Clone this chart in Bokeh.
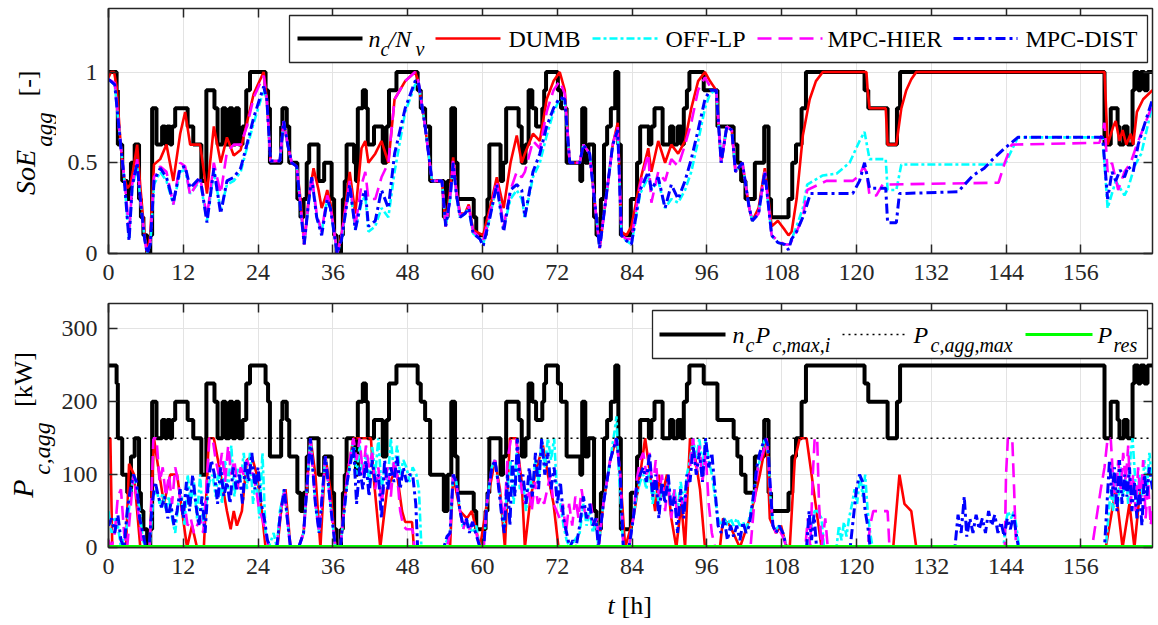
import math
from bokeh.plotting import figure
from bokeh.models import (Range1d, FixedTicker, LinearAxis, Label, Arrow, BoxAnnotation,
                          Span, CustomJSTickFormatter)
from bokeh.layouts import column, row
from bokeh.embed import file_html
from bokeh.resources import INLINE

# ---------------- data ----------------
N_V = 10            # number of vehicles
P_C_MAX_I = 25.0    # kW per charger
P_AGG_MAX = 150.0   # kW

x_ticks = [0, 12, 24, 36, 48, 60, 72, 84, 96, 108, 120, 132, 144, 156]
soe_ticks = [0, 0.5, 1]
p_ticks = [0, 100, 200, 300]

# connected vehicles n_c (step, value holds from t onward)
nc_pts = [(0,10),(1.3,9),(1.5,6),(2.2,4),(3.0,3),(3.6,5),(4.2,6),(4.9,3),(5.2,2),(5.6,1),(6.2,0),(6.7,1),
          (7.0,8),(7.7,6),(8.6,7),(9.1,6),(9.4,7),(9.9,6),(10.2,7),(10.7,8),(12.7,7),(13.6,6),(14.9,4),
          (15.7,9),(17.0,8),(17.5,6),(18.3,8),(18.8,6),(19.4,8),(19.9,6),(20.4,8),(20.9,6),(21.5,7),
          (22.1,9),(22.7,10),(25.2,9),(25.6,8),(25.9,5),(27.7,7),(27.9,8),(28.6,7),(29.0,5),(30.3,3),
          (30.8,2),(31.3,3),(31.8,5),(32.2,6),(33.7,4),(34.6,5),(35.8,3),(36.2,1),(36.6,0),(37.3,1),
          (37.6,3),(37.9,4),(38.2,6),(39.4,5),(39.7,4),(40.0,8),(40.8,9),(41.3,8),(41.6,6),(42.6,7),
          (44.0,5),(44.6,7),(45.0,9),(46.2,10),(49.6,9),(50.1,8),(50.8,7),(51.6,4),(53.8,2),(54.4,4),
          (55.0,8),(55.6,5),(56.0,3),(58.6,2),(59.0,1),(60.5,2),(60.8,3),(61.1,6),(62.9,4),(63.3,5),
          (63.8,8),(65.8,7),(66.3,5),(66.9,6),(67.4,9),(68.0,8),(68.6,7),(69.6,8),(69.9,9),(70.2,10),
          (72.1,9),(72.6,8),(73.5,5),(75.7,4),(76.0,8),(76.5,5),(77.0,6),(77.9,2),(78.3,1),(79.0,3),
          (79.5,6),(80.0,7),(80.6,8),(81.3,10),(81.8,6),(82.2,1),(83.8,3),(84.8,5),(85.3,7),(86.7,6),
          (87.1,7),(87.6,8),(88.9,6),(90.1,7),(90.6,6),(91.3,7),(91.9,6),(92.3,8),(92.8,9),(93.2,10),
          (95.5,9),(97.7,7),(100.3,6),(100.9,5),(101.5,4),(102.2,3),(103.7,5),(105.2,7),(105.9,3),
          (106.3,2),(109.1,3),(109.7,5),(110.3,6),(111.2,8),(111.9,10),(121.3,9),(121.9,8),(125.0,6),
          (126.5,8),(127.0,10),(159.8,6),(160.8,8),(161.9,7),(162.2,6),(162.9,7),(163.5,6),(164.3,9),
          (164.6,10),(165.2,9),(165.6,10),(166.2,9),(166.7,10),(167.5,10)]

soe_dumb = [(0,0.97),(0.4,1.0),(0.9,1.0),(1.3,0.92),(2.0,0.58),(2.5,0.42),(3.0,0.36),(3.5,0.38),(3.9,0.45),
            (4.6,0.6),(5.1,0.37),(5.8,0.1),(6.2,0.0),(6.7,0.1),(7.3,0.49),(8.3,0.52),(9.3,0.6),(10.4,0.4),
            (11.5,0.66),(12.3,0.78),(13.1,0.6),(14.7,0.6),(15.8,0.33),(16.9,0.7),(18.0,0.5),(19.0,0.64),
            (20.1,0.54),(21.2,0.57),(22.2,0.72),(23.3,0.88),(24.9,1.0),(25.4,0.85),(26.0,0.51),(27.5,0.51),
            (28.1,0.73),(28.8,0.59),(29.4,0.5),(30.2,0.48),(30.8,0.3),(31.4,0.05),(32.1,0.3),(32.9,0.47),
            (33.7,0.35),(34.2,0.25),(34.8,0.31),(35.1,0.35),(35.6,0.28),(36.7,0.0),(37.4,0.1),(38.7,0.45),
            (39.6,0.22),(40.6,0.58),(41.2,0.62),(41.7,0.5),(42.8,0.55),(43.8,0.62),(44.9,0.5),(45.9,0.85),
            (47.6,0.95),(49.2,1.0),(49.7,0.95),(50.8,0.7),(51.9,0.4),(53.5,0.4),(54.1,0.15),(54.8,0.35),
            (55.3,0.53),(55.8,0.35),(56.4,0.22),(57.2,0.22),(57.8,0.27),(58.5,0.13),(59.6,0.11),(60.1,0.1),
            (61.2,0.25),(62.3,0.42),(63.4,0.25),(64.5,0.5),(65.5,0.65),(66.3,0.5),(66.8,0.55),(68.1,0.66),
            (69.2,0.62),(70.3,0.85),(71.4,0.95),(72.4,1.0),(73.2,0.9),(74.0,0.5),(75.6,0.5),(76.2,0.6),
            (77.2,0.55),(77.8,0.35),(78.8,0.03),(79.8,0.3),(80.9,0.6),(81.7,0.72),(82.3,0.12),(83.1,0.1),
            (83.9,0.15),(85.3,0.4),(86.6,0.58),(87.1,0.45),(88.2,0.62),(89.3,0.5),(90.3,0.6),(91.4,0.55),
            (92.5,0.62),(93.5,0.8),(94.6,0.95),(95.7,1.0),(96.5,0.95),(97.5,0.9),(98.3,0.5),(99.2,0.7),
            (100.0,0.68),(100.6,0.45),(101.7,0.5),(102.8,0.25),(103.3,0.18),(104.3,0.25),(105.3,0.47),
            (106.4,0.15),(107.4,0.18),(108.5,0.13),(109.1,0.1),(109.6,0.12),(110.4,0.3),(111.4,0.65),
            (112.5,0.85),(113.5,0.95),(114.6,1.0),(121.6,1.0),(121.8,0.9),(122.1,0.8),(124.7,0.8),(125.0,0.6),
            (126.4,0.6),(127.2,0.8),(128.0,0.9),(128.8,0.96),(129.6,1.0),(159.8,1.0),(160.3,0.6),(161.2,0.7),
            (161.6,0.73),(162.2,0.62),(162.7,0.68),(163.3,0.6),(164.0,0.66),(164.4,0.6),(165.0,0.78),
            (166.0,0.85),(167.5,0.9)]

soe_offlp = [(0,0.96),(1.0,0.93),(2.0,0.58),(2.5,0.42),(3.0,0.2),(3.3,0.08),(3.8,0.36),(4.6,0.48),(5.1,0.3),
             (5.8,0.08),(6.2,0.0),(6.7,0.05),(7.3,0.38),(8.3,0.45),(9.3,0.4),(10.4,0.27),(11.5,0.45),(12.3,0.46),
             (13.1,0.33),(14.7,0.4),(15.8,0.18),(16.9,0.45),(18.0,0.24),(19.0,0.38),(20.1,0.4),(21.2,0.45),
             (22.2,0.58),(23.3,0.72),(24.9,0.9),(25.4,0.85),(26.0,0.51),(27.5,0.51),(28.1,0.73),(28.8,0.59),
             (29.4,0.5),(30.2,0.48),(30.8,0.25),(31.4,0.05),(32.1,0.28),(32.6,0.42),(33.4,0.2),(34.2,0.12),
             (35.1,0.3),(35.6,0.25),(36.7,0.0),(37.4,0.08),(38.7,0.38),(39.6,0.13),(40.6,0.28),(41.2,0.32),
             (41.7,0.12),(42.8,0.15),(43.8,0.25),(44.9,0.2),(45.9,0.45),(47.6,0.78),(49.2,0.93),(49.7,0.95),
             (50.8,0.7),(51.9,0.4),(53.5,0.4),(54.1,0.15),(54.8,0.3),(55.3,0.5),(55.8,0.33),(56.4,0.2),
             (57.2,0.22),(57.8,0.25),(58.5,0.11),(59.6,0.08),(60.1,0.05),(61.2,0.2),(62.3,0.38),(63.4,0.14),
             (64.5,0.3),(65.5,0.35),(66.3,0.3),(66.8,0.2),(68.1,0.42),(69.2,0.5),(70.3,0.65),(71.4,0.78),
             (72.4,0.85),(73.2,0.85),(74.0,0.5),(75.6,0.5),(76.2,0.6),(77.2,0.55),(77.8,0.35),(78.8,0.03),
             (79.8,0.3),(80.9,0.6),(81.7,0.68),(82.3,0.1),(83.1,0.07),(83.9,0.05),(85.3,0.33),(86.6,0.42),
             (87.1,0.35),(88.2,0.4),(89.3,0.25),(90.3,0.3),(91.4,0.28),(92.5,0.35),(93.5,0.45),(94.6,0.62),
             (95.7,0.8),(96.5,0.88),(97.5,0.9),(98.3,0.5),(99.2,0.7),(100.0,0.68),(100.6,0.45),(101.7,0.5),
             (102.8,0.25),(103.3,0.18),(104.3,0.22),(105.3,0.45),(106.4,0.1),(107.4,0.06),(108.5,0.05),
             (109.3,0.05),(110.4,0.15),(111.4,0.25),(112.1,0.38),(114.6,0.43),(116.8,0.44),(118.9,0.5),
             (120.5,0.62),(121.3,0.67),(122.1,0.52),(124.7,0.52),(125.0,0.35),(126.4,0.35),(127.2,0.49),
             (143.8,0.49),(145.9,0.64),(159.5,0.64),(160.3,0.25),(161.6,0.4),(163.0,0.32),(163.6,0.36),
             (164.6,0.48),(165.7,0.55),(167.5,0.82)]

soe_hier = [(0,0.96),(1.0,0.94),(2.0,0.58),(2.5,0.42),(3.0,0.25),(3.3,0.1),(3.8,0.38),(4.6,0.52),(5.1,0.3),
            (5.8,0.08),(6.2,0.0),(6.7,0.06),(7.3,0.42),(8.3,0.48),(9.3,0.45),(10.4,0.27),(11.5,0.5),(12.3,0.48),
            (13.1,0.32),(14.7,0.42),(15.8,0.2),(16.9,0.5),(18.0,0.33),(19.0,0.56),(20.1,0.6),(21.2,0.6),
            (22.2,0.7),(23.3,0.86),(24.9,0.98),(25.4,0.85),(26.0,0.51),(27.5,0.51),(28.1,0.73),(28.8,0.59),
            (29.4,0.5),(30.2,0.48),(30.8,0.27),(31.4,0.05),(32.1,0.28),(32.6,0.43),(33.4,0.22),(34.2,0.12),
            (35.1,0.32),(35.6,0.26),(36.7,0.0),(37.4,0.1),(38.7,0.4),(39.6,0.15),(40.6,0.38),(41.2,0.45),
            (41.7,0.3),(42.8,0.3),(43.8,0.42),(44.9,0.5),(45.9,0.85),(47.6,0.95),(49.2,1.0),(49.7,0.95),
            (50.8,0.7),(51.9,0.4),(53.5,0.4),(54.1,0.15),(54.8,0.3),(55.3,0.52),(55.8,0.34),(56.4,0.21),
            (57.2,0.22),(57.8,0.26),(58.5,0.12),(59.6,0.09),(60.1,0.07),(61.2,0.22),(62.3,0.4),(63.4,0.15),
            (64.5,0.35),(65.5,0.45),(66.3,0.42),(66.8,0.45),(68.1,0.62),(69.2,0.58),(70.3,0.78),(71.4,0.9),
            (72.4,0.95),(73.2,0.88),(74.0,0.5),(75.6,0.5),(76.2,0.6),(77.2,0.55),(77.8,0.35),(78.8,0.03),
            (79.8,0.3),(80.9,0.6),(81.7,0.7),(82.3,0.1),(83.1,0.08),(83.9,0.08),(85.3,0.38),(86.6,0.55),
            (87.1,0.28),(88.2,0.45),(89.3,0.4),(90.3,0.52),(91.4,0.48),(92.5,0.6),(93.5,0.72),(94.6,0.9),
            (95.7,0.97),(96.5,0.92),(97.5,0.9),(98.3,0.5),(99.2,0.7),(100.0,0.68),(100.6,0.45),(101.7,0.5),
            (102.8,0.25),(103.3,0.18),(104.3,0.22),(105.3,0.45),(106.4,0.1),(107.4,0.07),(108.5,0.05),
            (109.3,0.05),(110.4,0.12),(111.4,0.2),(112.1,0.35),(115.2,0.4),(119.4,0.4),(120.5,0.43),
            (121.1,0.48),(121.6,0.45),(122.1,0.32),(123.2,0.32),(124.2,0.38),(142.8,0.39),(143.8,0.5),
            (144.9,0.6),(159.0,0.61),(159.8,0.72),(160.3,0.45),(161.0,0.5),(162.0,0.35),(163.0,0.45),
            (164.0,0.5),(165.0,0.6),(167.5,0.82)]

soe_dist = [(0,0.96),(1.0,0.93),(2.0,0.58),(2.5,0.42),(3.0,0.2),(3.3,0.07),(3.8,0.37),(4.6,0.5),(5.1,0.3),
            (5.8,0.08),(6.2,0.0),(6.7,0.05),(7.3,0.4),(8.3,0.47),(9.3,0.42),(10.4,0.28),(11.5,0.47),(12.3,0.48),
            (13.1,0.36),(14.7,0.42),(15.8,0.17),(16.9,0.47),(18.0,0.22),(19.0,0.4),(20.1,0.42),(21.2,0.47),
            (22.2,0.6),(23.3,0.75),(24.9,0.92),(25.4,0.85),(26.0,0.51),(27.5,0.51),(28.1,0.73),(28.8,0.59),
            (29.4,0.5),(30.2,0.48),(30.8,0.25),(31.4,0.05),(32.1,0.28),(32.6,0.42),(33.4,0.2),(34.2,0.1),
            (35.1,0.3),(35.6,0.25),(36.7,0.0),(37.4,0.08),(38.7,0.38),(39.6,0.13),(40.6,0.3),(41.2,0.35),
            (41.7,0.15),(42.8,0.18),(43.8,0.35),(44.9,0.25),(45.9,0.55),(47.6,0.8),(49.2,0.95),(49.7,0.95),
            (50.8,0.7),(51.9,0.4),(53.5,0.4),(54.1,0.15),(54.8,0.3),(55.3,0.5),(55.8,0.33),(56.4,0.2),
            (57.2,0.22),(57.8,0.25),(58.5,0.11),(59.6,0.08),(60.1,0.04),(61.2,0.2),(62.3,0.38),(63.4,0.12),
            (64.5,0.35),(65.5,0.38),(66.3,0.35),(66.8,0.2),(68.1,0.45),(69.2,0.55),(70.3,0.7),(71.4,0.8),
            (72.4,0.86),(73.2,0.85),(74.0,0.5),(75.6,0.5),(76.2,0.6),(77.2,0.55),(77.8,0.35),(78.8,0.03),
            (79.8,0.3),(80.9,0.6),(81.7,0.68),(82.3,0.1),(83.1,0.07),(83.9,0.05),(85.3,0.35),(86.6,0.45),
            (87.1,0.35),(88.2,0.42),(89.3,0.25),(90.3,0.38),(91.4,0.3),(92.5,0.4),(93.5,0.52),(94.6,0.68),
            (95.7,0.85),(96.5,0.9),(97.5,0.9),(98.3,0.5),(99.2,0.7),(100.0,0.68),(100.6,0.45),(101.7,0.5),
            (102.8,0.25),(103.3,0.18),(104.3,0.22),(105.3,0.45),(106.4,0.1),(107.4,0.06),(108.5,0.05),
            (109.1,0.02),(109.6,0.08),(110.4,0.12),(111.4,0.2),(111.9,0.25),(112.6,0.33),(119.4,0.33),
            (120.5,0.4),(121.3,0.5),(122.1,0.36),(124.7,0.36),(125.0,0.17),(126.4,0.17),(126.9,0.33),
            (136.3,0.34),(138.7,0.43),(140.5,0.47),(141.9,0.52),(143.8,0.58),(145.9,0.64),(159.5,0.64),
            (160.3,0.3),(161.0,0.45),(161.6,0.4),(162.3,0.46),(163.0,0.42),(163.6,0.48),(164.4,0.45),
            (165.2,0.6),(166.3,0.72),(167.5,0.85)]

p_dumb = [(0,150),(0.3,150),(0.6,0),(2.8,0),(3.3,115),(4.1,100),(5.1,0),(6.6,0),(7.3,150),(7.8,120),(8.9,60),
          (9.9,100),(11.0,100),(11.8,50),(12.6,0),(13.4,30),(14.2,0),(15.3,0),(16.1,150),(16.9,150),(18.0,100),
          (19.0,50),(19.6,25),(20.1,50),(20.6,30),(21.4,50),(22.2,120),(23.0,125),(23.8,100),(24.6,50),(25.2,0),
          (27.1,0),(27.8,60),(28.4,80),(29.2,0),(30.5,0),(31.3,20),(32.4,150),(33.2,100),(34.0,0),(34.8,125),
          (35.6,80),(36.4,0),(37.2,0),(38.3,100),(39.3,150),(42.1,150),(42.5,100),(43.6,0),(44.7,80),(45.7,100),
          (46.3,100),(47.1,50),(47.6,35),(48.7,35),(49.0,0),(54.8,0),(55.3,100),(56.4,50),(57.5,40),(58.3,50),
          (59.1,20),(59.6,0),(60.7,60),(62.0,120),(62.8,80),(63.6,0),(64.4,150),(65.4,150),(66.3,90),(66.8,0),
          (67.6,60),(68.4,100),(69.7,140),(70.5,100),(71.4,60),(72.2,0),(78.6,0),(79.4,60),(80.5,120),(81.5,150),
          (82.1,100),(82.9,0),(84.2,40),(85.3,100),(86.1,150),(86.9,100),(87.7,50),(88.3,100),(88.8,70),
          (89.6,100),(90.3,40),(91.1,0),(91.9,60),(92.5,0),(93.3,150),(94.1,125),(94.9,80),(95.7,0),(98.1,0),
          (98.6,40),(99.7,30),(101.3,0),(102.9,40),(104.5,100),(105.6,150),(106.1,40),(107.1,20),(107.9,30),
          (108.8,0),(109.3,0),(110.1,120),(110.9,150),(112.0,150),(112.8,100),(113.6,50),(114.4,0),(125.9,0),
          (126.9,100),(127.7,60),(128.8,50),(129.6,0),(160.0,0),(160.8,40),(161.6,80),(162.7,0),(163.8,60),
          (164.6,0),(165.4,70),(166.4,100),(167.5,100)]

p_offlp = [(0,50),(0.5,20),(1,40),(1.5,30),(2,0),(3,30),(3.5,70),(4,100),(4.5,80),(5,50),(5.5,10),(6,0),(6.6,0),
           (7.2,70),(7.7,80),(8.2,60),(8.7,75),(9.2,50),(9.7,70),(10.2,40),(10.7,20),(11.2,60),(11.7,70),(12.2,30),
           (12.7,100),(13.2,60),(13.7,90),(14.2,40),(14.7,100),(15.2,30),(15.7,60),(16.2,90),(16.7,100),(17.2,70),
           (17.7,110),(18.2,60),(18.7,120),(19.2,80),(19.7,140),(20.2,70),(20.7,110),(21.2,90),(21.7,130),(22.2,80),
           (22.7,130),(23.2,60),(23.7,100),(24.2,40),(24.7,130),(25.2,20),(25.7,0),(26.5,20),(27.0,0),(27.5,50),
           (28.2,80),(28.8,30),(29.2,0),(30.5,0),(31.3,20),(32.4,150),(33.2,60),(33.8,20),(34.8,125),(35.6,60),
           (36.4,0),(37.2,0),(38.3,90),(39.3,150),(39.8,100),(40.3,140),(40.8,100),(41.3,130),(41.8,90),(42.3,140),
           (42.8,100),(43.3,150),(43.8,80),(44.3,110),(44.8,90),(45.3,150),(45.8,100),(46.3,140),(46.8,100),
           (47.3,120),(47.8,110),(48.3,90),(48.8,110),(49.4,100),(49.8,80),(50.2,0),(53.8,0),(54.8,20),(55.3,100),
           (55.8,90),(56.4,50),(56.9,25),(57.4,40),(57.9,30),(58.4,20),(59.0,30),(59.6,0),(60.2,0),(60.7,60),
           (61.5,110),(62.0,120),(62.5,90),(63.0,60),(63.5,30),(64.0,80),(64.5,120),(65.0,60),(65.5,130),(66.0,80),
           (66.5,90),(67.0,50),(67.5,100),(68.0,80),(68.5,120),(69.0,90),(69.5,150),(70.0,110),(70.5,150),
           (71.0,120),(71.5,150),(72.0,70),(72.5,60),(73.0,30),(73.5,10),(74.0,0),(75.6,20),(76.2,60),(76.7,30),
           (77.2,50),(77.7,20),(78.2,40),(78.6,0),(79.4,60),(80.5,120),(81.2,160),(81.5,180),(81.9,100),(82.6,0),
           (83.5,0),(84.2,40),(84.7,70),(85.3,90),(85.8,100),(86.3,80),(86.8,110),(87.3,60),(87.8,90),(88.3,60),
           (88.8,80),(89.3,70),(89.8,90),(90.3,60),(90.8,80),(91.3,50),(91.8,90),(92.3,60),(92.8,100),(93.3,120),
           (93.8,150),(94.3,120),(94.8,150),(95.3,110),(95.8,150),(96.3,120),(96.8,100),(97.3,70),(97.8,40),
           (98.3,30),(98.8,40),(99.3,30),(99.8,40),(100.3,30),(100.8,40),(101.3,30),(101.8,35),(102.3,25),
           (102.8,40),(103.3,60),(104.0,100),(104.5,120),(105.3,150),(105.8,130),(106.2,70),(106.6,30),(107.1,25),
           (107.6,30),(108.2,20),(108.8,0),(112.4,0),(112.8,30),(113.3,50),(113.8,50),(114.4,40),(114.8,0),
           (116.8,0),(117.2,30),(117.6,10),(118.0,35),(118.4,15),(118.8,40),(119.3,60),(119.7,80),(120.1,60),
           (120.6,100),(121.0,70),(121.4,100),(121.8,50),(122.2,20),(122.6,0),(143.6,0),(143.9,30),(144.3,50),
           (144.8,40),(145.3,50),(145.8,20),(146.1,0),(160.0,0),(160.4,40),(160.8,80),(161.2,50),(161.6,90),
           (162.0,60),(162.4,110),(162.8,70),(163.2,100),(163.6,60),(164.0,130),(164.3,150),(164.6,110),(165.0,60),
           (165.4,100),(165.8,70),(166.2,120),(166.6,80),(167.0,130),(167.5,90)]

p_hier = [(0,10),(0.5,0),(1,20),(1.5,70),(2,80),(2.5,20),(3,0),(3.5,50),(4,100),(4.5,70),(5,30),(5.5,0),(6.6,0),
          (7.2,150),(7.7,150),(8.2,90),(8.7,110),(9.2,70),(9.7,100),(10.2,60),(10.7,110),(11.2,90),(11.7,50),
          (12.2,60),(12.7,30),(13.2,40),(13.7,20),(14.2,30),(14.7,40),(15.2,20),(15.7,80),(16.2,150),(16.7,150),
          (17.2,120),(17.7,100),(18.2,130),(18.7,90),(19.2,140),(19.7,100),(20.2,120),(20.7,80),(21.2,110),
          (21.7,100),(22.2,120),(22.7,110),(23.2,100),(23.7,80),(24.2,50),(24.7,40),(25.2,20),(25.7,0),(27.0,0),
          (27.5,40),(28.2,80),(28.8,30),(29.2,0),(30.5,0),(31.3,20),(32.4,150),(33.2,60),(33.8,20),(34.8,125),
          (35.6,60),(36.4,0),(37.2,0),(38.3,100),(39.3,150),(39.8,120),(40.3,150),(40.8,100),(41.3,140),
          (41.8,110),(42.3,130),(42.8,80),(43.3,110),(43.8,60),(44.3,90),(44.8,110),(45.3,70),(45.8,120),
          (46.3,100),(46.8,50),(47.3,30),(47.8,25),(48.8,25),(49.1,0),(54.3,0),(54.8,20),(55.3,100),(55.8,90),
          (56.4,50),(56.9,25),(57.4,40),(57.9,25),(58.4,35),(59.0,20),(59.6,0),(60.2,0),(60.7,60),(61.5,110),
          (62.0,120),(62.5,90),(63.0,60),(63.5,40),(64.0,120),(64.6,150),(65.4,150),(65.9,110),(66.4,70),
          (66.9,60),(67.4,80),(67.9,50),(68.4,90),(68.9,60),(69.4,70),(69.9,60),(70.4,80),(70.9,100),(71.4,60),
          (71.9,50),(72.4,40),(72.9,60),(73.4,20),(73.9,60),(74.4,30),(74.9,70),(75.4,40),(75.9,80),(76.4,50),
          (76.9,40),(77.4,60),(77.9,30),(78.4,40),(78.6,0),(79.4,60),(80.5,120),(81.5,150),(82.1,100),(82.6,0),
          (83.5,0),(84.2,40),(84.7,90),(85.3,120),(85.8,130),(86.3,100),(86.8,130),(87.3,80),(87.8,120),
          (88.3,70),(88.8,100),(89.3,50),(89.8,90),(90.3,40),(90.8,80),(91.3,40),(91.8,70),(92.3,50),(92.8,80),
          (93.3,110),(93.8,150),(94.3,100),(94.8,140),(95.3,90),(95.8,130),(96.3,60),(96.8,20),(97.3,0),
          (103.0,0),(103.5,50),(104.2,110),(105.0,130),(105.6,150),(106.2,80),(106.6,30),(107.1,20),(107.6,25),
          (108.2,15),(108.8,0),(111.8,0),(112.2,40),(112.6,0),(113.0,100),(113.3,150),(113.7,150),(114.0,60),
          (114.4,0),(115.0,40),(115.4,0),(121.8,0),(122.2,30),(122.7,50),(125.0,50),(125.3,0),(143.8,0),
          (144.0,100),(144.3,150),(145.0,150),(145.3,80),(145.6,0),(157.8,0),(158.5,40),(159.2,80),(159.8,110),
          (160.3,150),(160.8,150),(161.2,90),(161.6,60),(162.0,120),(162.4,80),(162.8,130),(163.2,90),
          (163.6,140),(164.0,60),(164.4,100),(164.8,50),(165.2,110),(165.6,60),(166.0,120),(166.4,40),
          (166.8,90),(167.2,30),(167.5,50)]

p_dist = [(0,30),(0.5,40),(1,20),(1.5,45),(2,10),(2.5,0),(3,50),(3.5,80),(4,100),(4.5,90),(5,40),(5.5,20),(6,0),
          (6.5,0),(7,60),(7.5,90),(8,70),(8.5,55),(9,70),(9.5,40),(10,60),(10.5,30),(11,50),(11.5,80),(12,40),
          (12.5,90),(13,50),(13.5,100),(14,60),(14.5,30),(15,70),(15.5,20),(16,90),(16.5,120),(17,100),(17.5,60),
          (18,110),(18.5,70),(19,90),(19.5,60),(20,110),(20.5,80),(21,100),(21.5,60),(22,120),(22.5,90),(23,130),
          (23.5,80),(24,110),(24.5,60),(25,40),(25.5,10),(26,0),(27,0),(27.5,40),(28.2,80),(28.8,30),(29.2,0),
          (30.5,0),(31.3,20),(32.4,150),(33.2,60),(33.8,20),(34.8,125),(35.6,60),(36.4,0),(37.2,0),(38.3,90),
          (39.3,140),(39.8,60),(40.3,110),(40.8,80),(41.3,120),(41.8,70),(42.3,120),(42.8,90),(43.3,100),
          (43.8,40),(44.3,120),(44.8,80),(45.3,110),(45.8,90),(46.3,125),(46.8,80),(47.3,110),(47.8,90),
          (48.3,100),(48.8,100),(49.3,60),(49.6,0),(53.8,0),(54.3,15),(54.8,20),(55.3,100),(55.8,90),(56.4,50),
          (56.9,30),(57.4,40),(57.9,20),(58.4,35),(58.9,20),(59.6,0),(60.2,0),(60.7,60),(61.5,110),(62.0,120),
          (62.5,90),(63.0,50),(63.5,20),(64.0,100),(64.4,30),(64.8,120),(65.2,70),(65.6,150),(66.0,90),(66.5,100),
          (67.0,60),(67.5,110),(68.0,70),(68.5,130),(69.0,80),(69.5,150),(70.0,100),(70.5,130),(71.0,80),
          (71.5,110),(72.0,60),(72.5,90),(73.0,40),(73.5,20),(74,0),(74.5,10),(75,0),(75.6,30),(76.2,70),
          (76.7,40),(77.2,60),(77.7,30),(78.2,40),(78.6,0),(79.4,60),(80.5,120),(81.5,150),(82.1,100),(82.6,0),
          (83.5,0),(84.2,40),(84.7,80),(85.3,100),(85.8,110),(86.3,90),(86.8,130),(87.3,70),(87.8,100),(88.3,40),
          (88.8,90),(89.3,60),(89.8,100),(90.3,50),(90.8,70),(91.3,20),(91.8,80),(92.3,40),(92.8,100),(93.3,90),
          (93.8,140),(94.3,100),(94.8,130),(95.3,90),(95.8,150),(96.3,110),(96.8,130),(97.3,80),(97.8,30),
          (98.3,20),(98.8,40),(99.3,10),(99.8,30),(100.3,15),(100.8,30),(101.3,10),(101.8,35),(102.3,20),
          (102.8,30),(103.3,60),(104.0,110),(104.5,130),(105.3,150),(105.8,140),(106.2,80),(106.6,30),(107.1,20),
          (107.6,30),(108.2,20),(108.8,0),(112.0,0),(112.4,50),(112.8,10),(113.2,45),(113.6,0),(119.0,0),
          (119.5,40),(120.0,80),(120.5,100),(121.0,90),(121.4,50),(121.8,30),(122.2,0),(135.8,0),(136.3,45),
          (136.8,20),(137.3,70),(137.7,15),(138.2,40),(138.7,20),(139.2,45),(139.7,25),(140.2,40),(140.7,20),
          (141.2,50),(141.7,30),(142.2,45),(142.7,20),(143.2,35),(143.7,15),(144.2,40),(144.7,25),(145.2,45),
          (145.7,15),(146.0,0),(159.8,0),(160.2,60),(160.6,120),(161.0,70),(161.4,110),(161.8,50),(162.2,120),
          (162.6,60),(163.0,100),(163.4,70),(163.8,110),(164.2,50),(164.6,90),(165.0,40),(165.4,80),(165.8,30),
          (166.2,100),(166.6,70),(167.0,110),(167.5,80)]

t_res = [0, 167.5]
p_res = [0, 0]

X_MAX = 167.5

# ---------------- styling helpers ----------------
FONT = "Liberation Serif"
AXC = "#262626"
GRID = "#e3e3e3"

RED, CYAN, MAG, BLUE = "#ff0000", "#00ffff", "#ff00ff", "#0000ff"
DASH_CYAN = "8 3 3 3"
DASH_MAG = "14 7"
DASH_BLUE = "10 4 3 4"

LEFT_W = 56
TOTAL_W = 1158


def split(pts):
    return [a for a, _ in pts], [b for _, b in pts]


def blank_formatter():
    return CustomJSTickFormatter(code="return ''")


def make_fig(y_max, y_ticks, height, border_top, border_bottom, overrides=None):
    p = figure(width=TOTAL_W - LEFT_W, height=height, x_range=Range1d(0, X_MAX), y_range=Range1d(0, y_max),
               output_backend="svg", toolbar_location=None,
               min_border_left=108 - LEFT_W, min_border_right=6, min_border_top=border_top,
               min_border_bottom=border_bottom)
    p.outline_line_color = AXC
    p.outline_line_width = 1.5
    p.background_fill_color = "white"
    for ax in (p.xaxis[0], p.yaxis[0]):
        ax.major_tick_in = 9
        ax.major_tick_out = 0
        ax.minor_tick_line_color = None
        ax.axis_line_color = AXC
        ax.axis_line_width = 1.5
        ax.major_tick_line_color = AXC
        ax.major_tick_line_width = 1.5
        ax.major_label_text_font = FONT
        ax.major_label_text_font_size = "24px"
        ax.major_label_text_color = AXC
    p.xaxis[0].major_label_standoff = 11
    p.yaxis[0].major_label_standoff = 11
    p.xaxis[0].ticker = FixedTicker(ticks=x_ticks)
    p.yaxis[0].ticker = FixedTicker(ticks=y_ticks)
    if overrides:
        p.yaxis[0].major_label_overrides = overrides
    # mirrored ticks (box on)
    for loc, tk in (("above", x_ticks), ("right", y_ticks)):
        ax = LinearAxis(ticker=FixedTicker(ticks=tk), formatter=blank_formatter(),
                        major_tick_in=9, major_tick_out=0, minor_tick_line_color=None,
                        major_label_standoff=0, major_label_text_font_size="0px",
                        axis_line_color=AXC, major_tick_line_color=AXC, major_tick_line_width=1.5)
        p.add_layout(ax, loc)
    p.xgrid.grid_line_color = GRID
    p.ygrid.grid_line_color = GRID
    return p


def strip(width, height):
    s = figure(width=width, height=height, x_range=Range1d(0, 1), y_range=Range1d(0, 1),
               output_backend="svg", toolbar_location=None, min_border=0,
               x_axis_location=None, y_axis_location=None)
    s.grid.visible = False
    s.outline_line_color = None
    return s


def txt(p, text, x, y, size=24, italic=False, angle=0.0, align="left"):
    p.add_layout(Label(x=x, y=y, x_units="screen", y_units="screen", text=text,
                       text_font=FONT, text_font_size=f"{size}px",
                       text_font_style="italic" if italic else "normal",
                       text_color="black", angle=angle, text_align=align,
                       text_baseline="middle"))


def sample(p, x0, x1, y, color, width, dash="solid"):
    p.add_layout(Arrow(start=None, end=None, x_start=x0, y_start=y, x_end=x1, y_end=y,
                       start_units="screen", end_units="screen", line_color=color,
                       line_width=width, line_dash=dash))


def legend_box(p, left, right, bottom, top):
    p.add_layout(BoxAnnotation(left=left, right=right, bottom=bottom, top=top,
                               left_units="screen", right_units="screen",
                               bottom_units="screen", top_units="screen",
                               fill_color="white", fill_alpha=1.0,
                               line_color=AXC, line_width=1.3, line_alpha=1.0,
                               level="annotation"))


H1 = 298   # top row height (page 0..298)
H2 = 289   # bottom row height (page 298..587)
H3 = 625 - H1 - H2
F1_BOTTOM = 253   # page y of the top frame bottom (label strips share the frame)
F2_BOTTOM = 547   # page y of the bottom frame bottom

# ---------------- top: SoE ----------------
t_nc, nc = split(nc_pts)
soe_nc = [n / N_V for n in nc]
p_nc = [n * P_C_MAX_I for n in nc]

p1 = make_fig(1.35, soe_ticks, H1, 8, 45, overrides={0: "0", 0.5: "0.5", 1: "1"})
p1.step(t_nc, soe_nc, mode="after", line_color="black", line_width=4)
x, y = split(soe_dumb)
p1.line(x, y, line_color=RED, line_width=2.6)
x, y = split(soe_offlp)
p1.line(x, y, line_color=CYAN, line_width=2.6, line_dash=DASH_CYAN)
x, y = split(soe_hier)
p1.line(x, y, line_color=MAG, line_width=2.6, line_dash=DASH_MAG)
x, y = split(soe_dist)
p1.line(x, y, line_color=BLUE, line_width=3, line_dash=DASH_BLUE)

legend_box(p1, 181, 1039, 191, 238)
ly = 215
sample(p1, 189, 254, ly, "black", 4)
txt(p1, "n", 260, ly, 24, True)
txt(p1, "c", 272, ly - 10, 20, True)
txt(p1, "/N", 280, ly, 24, True)
txt(p1, "v", 307, ly - 10, 20, True)
sample(p1, 327, 392, ly, RED, 2.6)
txt(p1, "DUMB", 400, ly, 24)
sample(p1, 484, 549, ly, CYAN, 2.6, DASH_CYAN)
txt(p1, "OFF-LP", 557, ly, 24)
sample(p1, 649, 714, ly, MAG, 2.6, DASH_MAG)
txt(p1, "MPC-HIER", 719, ly, 24)
sample(p1, 845, 909, ly, BLUE, 3, DASH_BLUE)
txt(p1, "MPC-DIST", 917, ly, 24)

# y label SoE_agg [-]
rot = math.pi / 2
lab1 = strip(LEFT_W, H1)
txt(lab1, "SoE", 25, F1_BOTTOM - 172, 28, True, rot, "center")
txt(lab1, "agg", 44, F1_BOTTOM - 129, 23, True, rot, "center")
txt(lab1, "[-]", 27, F1_BOTTOM - 83, 26, False, rot, "center")

# ---------------- bottom: power ----------------
p2 = make_fig(335, p_ticks, H2, 5, 40)
p2.step(t_nc, p_nc, mode="after", line_color="black", line_width=4)
x, y = split(p_dumb)
p2.line(x, y, line_color=RED, line_width=2.6)
x, y = split(p_offlp)
p2.line(x, y, line_color=CYAN, line_width=2.6, line_dash=DASH_CYAN)
x, y = split(p_hier)
p2.line(x, y, line_color=MAG, line_width=2.6, line_dash=DASH_MAG)
x, y = split(p_dist)
p2.line(x, y, line_color=BLUE, line_width=3, line_dash=DASH_BLUE)
p2.add_layout(Span(location=P_AGG_MAX, dimension="width", line_color="black",
                   line_width=1.6, line_dash="2 4"))
p2.line(t_res, p_res, line_color="#00ff00", line_width=5)

legend_box(p2, 544, 1039, 189, 237)
ly2 = 213
sample(p2, 551, 617, ly2, "black", 4)
txt(p2, "n", 624, ly2, 24, True)
txt(p2, "c", 637, ly2 - 10, 20, True)
txt(p2, "P", 647, ly2, 24, True)
txt(p2, "c,max,i", 664, ly2 - 10, 20, True)
sample(p2, 734, 799, ly2, "black", 1.6, "2 4")
txt(p2, "P", 805, ly2, 24, True)
txt(p2, "c,agg,max", 822, ly2 - 10, 20, True)
sample(p2, 917, 984, ly2, "#00ff00", 3)
txt(p2, "P", 989, ly2, 24, True)
txt(p2, "res", 1005, ly2 - 10, 20, True)

# y label P_c,agg [kW]
lab2 = strip(LEFT_W, H2)
txt(lab2, "P", 22, F2_BOTTOM - 488, 30, True, rot, "center")
txt(lab2, "c,agg", 41, F2_BOTTOM - 448, 24, True, rot, "center")
txt(lab2, "[kW]", 23, F2_BOTTOM - 379, 26, False, rot, "center")

# x label t [h]
lab3 = strip(TOTAL_W, H3)
txt(lab3, "t", 607, 625 - 605, 26, True)
txt(lab3, "[h]", 621, 625 - 605, 26, False)

layout = column(row(lab1, p1, spacing=0), row(lab2, p2, spacing=0), lab3, spacing=0)
open("out.html", "w").write(file_html(layout, INLINE))
